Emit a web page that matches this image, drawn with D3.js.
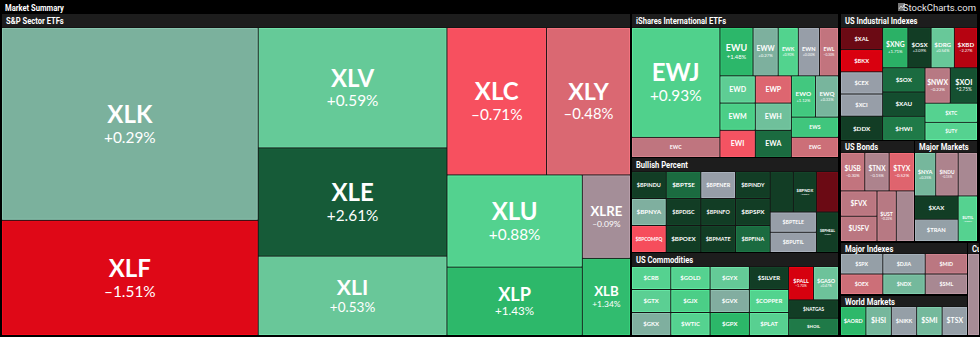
<!DOCTYPE html>
<html>
<head>
<meta charset="utf-8">
<script src="https://cdn.jsdelivr.net/npm/d3@7"></script>
<style>
  html, body { margin: 0; padding: 0; background: #000; }
  svg { display: block; }
</style>
</head>
<body>
<div id="chart"></div>
<script>
// ---- data: tickers, daily change (%), relative weight, and tiling tree per panel ----
// tree: ["h", ...] = children side by side, ["v", ...] = children stacked; numbers index the arrays

// S&P Sector ETFs
const spNames  = ["XLK","XLF","XLV","XLE","XLI","XLC","XLY","XLU","XLP","XLRE","XLB"];
const spChange = [0.29,-1.51,0.59,2.61,0.53,-0.71,-0.48,0.88,1.43,-0.09,1.34];
const spWeight = [492,294,226,203,149,146,123,124,92,40,37];
const spTree   = ["h", ["v",0,1], ["v",2,3,4], ["v", ["h",5,6], ["h", ["v",7,8], ["v",9,10]]]];

// iShares International ETFs
const isNames  = ["EWJ","EWC","EWU","EWW","EWK","EWN","EWL","EWD","EWP","EWM","EWH","EWI","EWA","EWO","EWQ","EWS","EWG"];
const isChange = [0.93,-0.28,1.48,0.27,0.90,0.00,-0.30,0.70,-0.50,1.00,0.45,-0.68,2.40,1.12,0.33,1.15,-0.38];
const isWeight = [959,176,158,120,96,101,91,95,97,95,97,95,97,98,94,94,94];
const isTree   = ["h", ["v",0,1], ["v", ["h",2,3,4,5,6], ["h", ["v",["h",7,8],["h",9,10],["h",11,12]], ["v",["h",13,14],15,16]]]];

// Bullish Percent
const bpNames  = ["$BPINDU","$BPTSE","$BPENER","$BPINDY","$BPNYA","$BPDISC","$BPINFO","$BPSPX","$BPCOMPQ","$BPOEX","$BPMATE","$BPFINA","","$BPNDX","","$BPTELE","$BPUTIL","$BPHEAL"];
const bpChange = [3.0,2.4,0.0,3.0,0.25,3.0,3.0,3.0,-0.75,3.0,3.0,2.4,3.0,3.0,-3.6,0.0,0.0,3.0];
const bpWeight = [92,92,92,92,92,92,92,92,92,92,92,92,92,92,88,92,92,88];
const bpTree   = ["h", ["v",["h",0,1,2,3],["h",4,5,6,7],["h",8,9,10,11]], ["v",["h",12,13,14],["h",["v",15,16],17]]];

// US Commodities
const cmNames  = ["$CRB","$GOLD","$GYX","$SILVER","$GTX","$GJX","$GVX","$COPPER","$GKX","$WTIC","$GPX","$PLAT","$PALL","$GASO","$NATGAS","$HOIL"];
const cmChange = [0.85,0.85,0.60,3.0,0.75,1.00,0.22,0.90,0.25,0.85,1.50,0.80,-1.70,0.47,3.0,2.2];
const cmWeight = [89,89,89,89,89,89,89,89,89,89,89,89,82,82,90,85];
const cmTree   = ["h", ["v",["h",0,1,2,3],["h",4,5,6,7],["h",8,9,10,11]], ["v",["h",12,13],14,15]];

// US Industrial Indexes
const inNames  = ["$XAL","$BKX","$CEX","$XCI","$DDX","$XNG","$OSX","$DRG","$XBD","$SOX","$XAU","$HWI","$NWX","$XOI","$XTC","$UTY"];
const inChange = [-3.6,-1.65,0.0,0.0,3.0,1.71,3.09,0.54,-2.27,2.4,2.8,2.2,-0.22,2.75,0.85,0.85];
const inWeight = [92,92,92,92,101,100,92,92,92,101,101,101,88,95,99,94];
const inTree   = ["h", ["v",0,1,2,3,4], ["v", ["h",5,6,7,8], ["h", ["v",9,10,11], ["v",["h",12,13],14,15]]]];

// US Bonds
const bdNames  = ["$USB","$TNX","$TYX","$FVX","$USFV","$UST",""];
const bdChange = [-0.30,-0.15,-0.52,-0.25,-0.25,-0.22,-0.12];
const bdWeight = [91,91,95,90,90,95,90];
const bdTree   = ["v", ["h",0,1,2], ["h", ["v",3,4], 5, 6]];

// Major Markets
const mmNames  = ["$NYA","$INDU","","$XAX","$TRAN","$UTIL"];
const mmChange = [0.35,-0.15,-0.12,3.0,0.03,0.85];
const mmWeight = [90,95,82,99,95,86];
const mmTree   = ["v", ["h",0,1,2], ["h", ["v",3,4], 5]];

// Major Indexes
const miNames  = ["$SPX","$DJIA","$MID","$OEX","$NDX","$SML"];
const miChange = [0.02,0.02,-0.25,-0.38,0.38,-0.12];
const miWeight = [84,84,84,84,84,84];
const miTree   = ["v", ["h",0,1,2], ["h",3,4,5]];

// World Markets
const wmNames  = ["$AORD","$HSI","$NIKK","$SMI","$TSX"];
const wmChange = [1.45,0.35,0.02,0.38,0.02];
const wmWeight = [70,70,70,70,70];
const wmTree   = ["h",0,1,2,3,4];

// Currencies (cut off at the right edge)
const cuNames  = [""];
const cuChange = [-0.1];
const cuWeight = [1];
const cuTree   = ["h",0];

// colour ramp: change % -> heat colour
const colorStops = [-3.6,-1.6,-0.7,-0.45,-0.2,0,0.3,0.55,0.9,1.4,1.8,2.2,2.6,3.0];
const colorRange = ["#6b0a14","#dc000f","#f75160","#d66b74","#b47a84","#979ea8","#7ab29d","#67c999","#52d38e","#2db96b","#2aaf64","#1f7a48","#165c38","#123d25"];

// ---- layout ----
const width = 980, height = 337;

const panels = [
  {title:"S&P Sector ETFs",            x:2,   y:14,  w:628, h:321, head:14, names:spNames, change:spChange, weight:spWeight, tree:spTree},
  {title:"iShares International ETFs", x:632, y:14,  w:206, h:143, head:14, names:isNames, change:isChange, weight:isWeight, tree:isTree},
  {title:"Bullish Percent",            x:632, y:158, w:206, h:94,  head:14, names:bpNames, change:bpChange, weight:bpWeight, tree:bpTree},
  {title:"US Commodities",             x:632, y:253, w:206, h:82,  head:14, names:cmNames, change:cmChange, weight:cmWeight, tree:cmTree},
  {title:"US Industrial Indexes",      x:841, y:14,  w:136, h:126, head:14, names:inNames, change:inChange, weight:inWeight, tree:inTree},
  {title:"US Bonds",                   x:841, y:141, w:73,  h:100, head:12, names:bdNames, change:bdChange, weight:bdWeight, tree:bdTree},
  {title:"Major Markets",              x:915, y:141, w:62,  h:100, head:12, names:mmNames, change:mmChange, weight:mmWeight, tree:mmTree},
  {title:"Major Indexes",              x:841, y:243, w:126, h:51,  head:11, names:miNames, change:miChange, weight:miWeight, tree:miTree},
  {title:"World Markets",              x:841, y:296, w:126, h:39,  head:11, names:wmNames, change:wmChange, weight:wmWeight, tree:wmTree},
  {title:"Cu",                         x:968, y:243, w:11,  h:92,  head:11, names:cuNames, change:cuChange, weight:cuWeight, tree:cuTree}
];

const color = d3.scaleLinear().domain(colorStops).range(colorRange).clamp(true);

const fmtPct = v => (v < 0 ? "\u2013" : "+") + Math.abs(v).toFixed(2) + "%";

// build a hierarchy object from the nested tree spec
function build(spec, p) {
  if (typeof spec === "number") {
    return {name: p.names[spec], change: p.change[spec], value: p.weight[spec]};
  }
  const [dir, ...kids] = spec;
  return {dir, children: kids.map(k => build(k, p))};
}

// horizontal nodes are diced, vertical nodes are sliced
function tile(node, x0, y0, x1, y1) {
  (node.data.dir === "h" ? d3.treemapDice : d3.treemapSlice)(node, x0, y0, x1, y1);
}

const svg = d3.select("#chart")
  .append("svg")
  .attr("width", width)
  .attr("height", height)
  .style("background", "#000");

// squeeze header text a little, like the condensed face in the original
function condense(sel, k) {
  sel.each(function() {
    const len = this.getComputedTextLength();
    d3.select(this).attr("textLength", len * k).attr("lengthAdjust", "spacingAndGlyphs");
  });
}

// top bar
svg.append("text")
  .attr("x", 5).attr("y", 10.5)
  .attr("fill", "#fff")
  .style("font", "bold 9.5px Roboto, 'DejaVu Sans', sans-serif")
  .text("Market Summary")
  .call(condense, 0.8);

const logo = svg.append("g").attr("transform", "translate(898,3)");
logo.append("rect").attr("width", 7).attr("height", 8).attr("fill", "#777");
logo.append("path").attr("d", "M1,6 L3,3 L4.5,5 L6.5,1.5").attr("stroke", "#ddd").attr("fill", "none").attr("stroke-width", 0.8);
svg.append("text")
  .attr("x", 976).attr("y", 10.5)
  .attr("text-anchor", "end")
  .attr("fill", "#e6e6e6")
  .style("font", "9.5px Roboto, 'DejaVu Sans', sans-serif")
  .text("StockCharts.com");

const defs = svg.append("defs");

panels.forEach((p, i) => {
  const clipId = "clip" + i;
  defs.append("clipPath").attr("id", clipId)
    .append("rect").attr("x", p.x).attr("y", p.y).attr("width", p.w).attr("height", p.h);

  const g = svg.append("g").attr("clip-path", `url(#${clipId})`);

  // panel body + header bar
  g.append("rect")
    .attr("x", p.x).attr("y", p.y).attr("width", p.w).attr("height", p.h)
    .attr("fill", "#141414");
  g.append("rect")
    .attr("x", p.x).attr("y", p.y).attr("width", p.w + 40).attr("height", p.head - 1)
    .attr("fill", "#1d1d1d");
  g.append("text")
    .attr("x", p.x + 4).attr("y", p.y + p.head / 2 + 3.3)
    .attr("fill", "#fff")
    .style("font", "bold 9.5px Roboto, 'DejaVu Sans', sans-serif")
    .text(p.title)
    .call(condense, 0.8);

  const root = d3.hierarchy(build(p.tree, p)).sum(d => d.value || 0);
  d3.treemap()
    .tile(tile)
    .size([p.w, p.h - p.head])
    .paddingInner(1)(root);

  const cells = g.append("g")
    .attr("transform", `translate(${p.x},${p.y + p.head})`)
    .selectAll("g")
    .data(root.leaves())
    .join("g");

  cells.append("rect")
    .attr("x", d => d.x0 + 0.5)
    .attr("y", d => d.y0 + 0.5)
    .attr("width", d => Math.max(0, d.x1 - d.x0 - 1))
    .attr("height", d => Math.max(0, d.y1 - d.y0 - 1))
    .attr("fill", d => color(d.data.change))
    .attr("stroke", d => d3.color(color(d.data.change)).brighter(0.3))
    .attr("stroke-width", 1);

  cells.filter(d => d.data.name).each(function(d) {
    const w = d.x1 - d.x0, h = d.y1 - d.y0;
    const n = d.data.name.length;
    const f = Math.min(24, h * 0.27, w * 0.28, 0.9 * w / (n * 0.8));
    const showPct = h >= 30;
    const cx = (d.x0 + d.x1) / 2, cy = (d.y0 + d.y1) / 2;
    const cell = d3.select(this);
    cell.append("text")
      .attr("x", cx)
      .attr("y", showPct ? cy - f * 0.04 : cy + f * 0.36)
      .attr("text-anchor", "middle")
      .attr("fill", "#fff")
      .style("font-family", "Lato, 'Open Sans', sans-serif")
      .style("font-weight", 700)
      .style("font-size", f + "px")
      .text(d.data.name);
    if (showPct) {
      cell.append("text")
        .attr("x", cx)
        .attr("y", cy + f * 0.78)
        .attr("text-anchor", "middle")
        .attr("fill", "#fff")
        .style("font-family", "Lato, 'Open Sans', sans-serif")
        .style("font-size", (f * 0.64) + "px")
        .text(fmtPct(d.data.change));
    }
  });
});
</script>
</body>
</html>
